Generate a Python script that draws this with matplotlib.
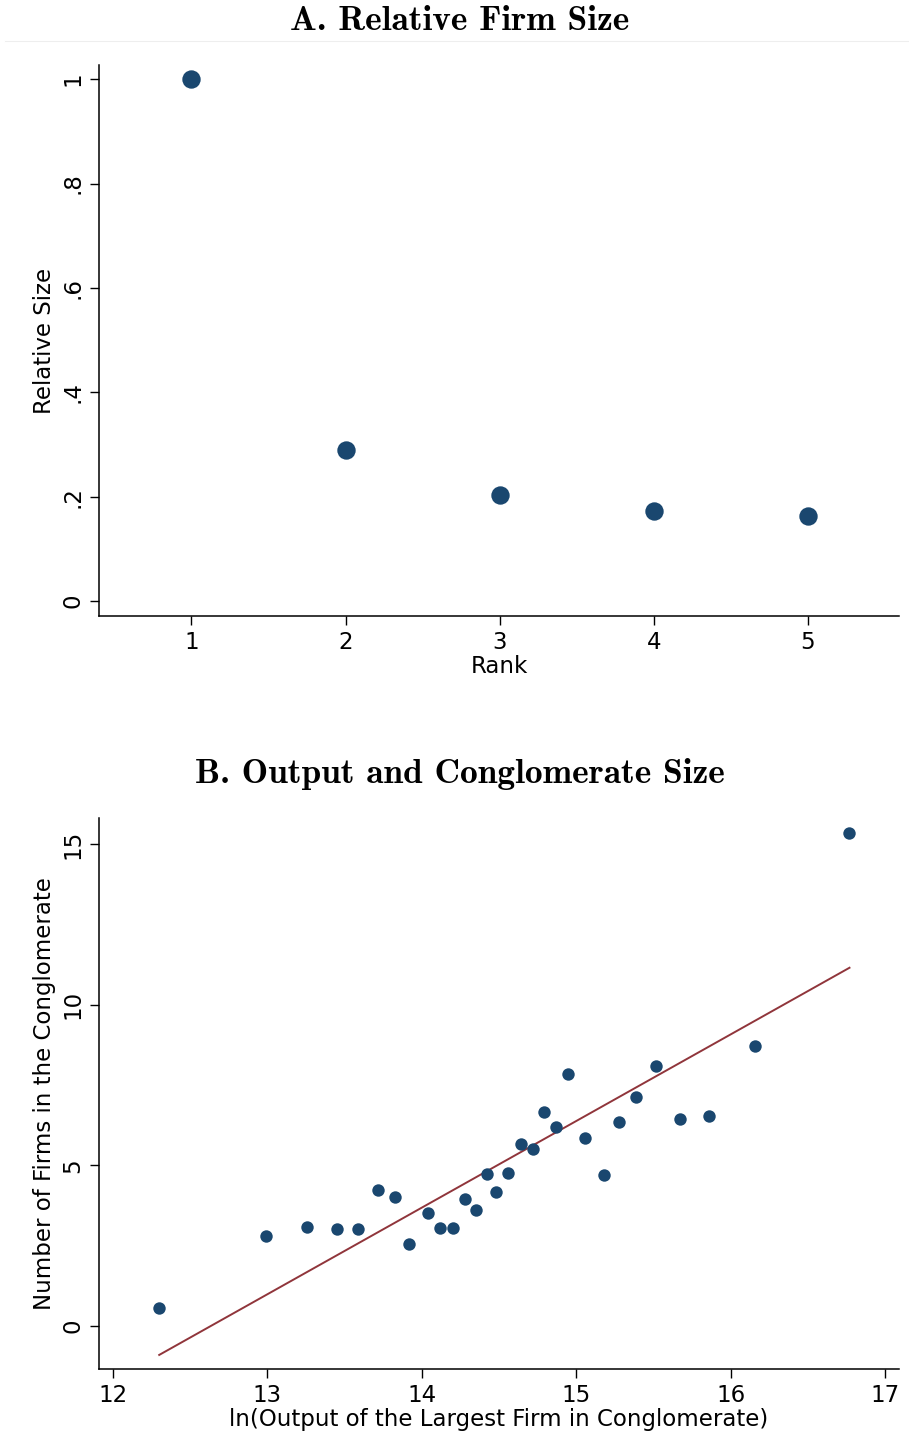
import numpy as np
import matplotlib
matplotlib.use("Agg")
import matplotlib.pyplot as plt
from matplotlib.lines import Line2D

# panel A data
rank = [1, 2, 3, 4, 5]
rel_size = [1.0, 0.289, 0.203, 0.172, 0.163]

# panel B data
log_output = [12.30, 12.99, 13.26, 13.45, 13.59, 13.72, 13.83, 13.92, 14.04, 14.12,
              14.20, 14.28, 14.35, 14.42, 14.48, 14.56, 14.64, 14.72, 14.79, 14.87,
              14.95, 15.06, 15.18, 15.28, 15.39, 15.52, 15.67, 15.86, 16.16, 16.77]
n_firms = [0.56, 2.80, 3.08, 3.02, 3.02, 4.23, 4.01, 2.55, 3.52, 3.05,
           3.05, 3.95, 3.61, 4.73, 4.17, 4.76, 5.66, 5.51, 6.66, 6.19,
           7.84, 5.85, 4.70, 6.35, 7.13, 8.09, 6.44, 6.54, 8.71, 15.34]
fit_x = [12.30, 16.77]
fit_y = [-0.90, 11.15]

navy = '#1a476f'
maroon = '#90353b'
fs = 16.5

plt.rcParams['font.family'] = 'DejaVu Sans'
plt.rcParams['font.size'] = fs

fig = plt.figure(figsize=(9.09, 14.33), dpi=100)

def style(ax):
    for s in ['top', 'right']:
        ax.spines[s].set_visible(False)
    for s in ['left', 'bottom']:
        ax.spines[s].set_linewidth(1.1)
    ax.tick_params(direction='out', length=6.5, width=1.0, labelsize=fs, pad=4)
    for lab in ax.get_yticklabels():
        lab.set_rotation(90)
        lab.set_va('center')

# Panel A
ax1 = fig.add_axes([0.1089, 0.5701, 0.880, 0.3845])
ax1.scatter(rank, rel_size, s=175, color=navy, zorder=3, linewidths=0)
ax1.set_xlim(0.40, 5.59)
ax1.set_ylim(-0.0287, 1.027)
ax1.set_xticks(rank)
ax1.set_yticks([0, 0.2, 0.4, 0.6, 0.8, 1.0])
ax1.set_yticklabels(['0', '.2', '.4', '.6', '.8', '1'])
ax1.set_xlabel('Rank', fontsize=fs, labelpad=1)
ax1.set_ylabel('Relative Size', fontsize=fs, labelpad=4)
style(ax1)
fig.text(0.506, 1 - 21 / 1433, 'A. Relative Firm Size', fontfamily='cmb10',
         fontsize=25.5, ha='center', va='center')

# Panel B
ax2 = fig.add_axes([0.1089, 0.04466, 0.880, 0.3845])
ax2.plot(fit_x, fit_y, color=maroon, lw=1.4, zorder=2)
ax2.scatter(log_output, n_firms, s=80, color=navy, zorder=3, linewidths=0)
ax2.set_xlim(11.91, 17.09)
ax2.set_ylim(-1.338, 15.81)
ax2.set_xticks([12, 13, 14, 15, 16, 17])
ax2.set_yticks([0, 5, 10, 15])
ax2.set_xlabel('ln(Output of the Largest Firm in Conglomerate)', fontsize=fs, labelpad=1)
ax2.set_ylabel('Number of Firms in the Conglomerate', fontsize=fs, labelpad=4)
style(ax2)
fig.text(0.506, 1 - 774 / 1433, 'B. Output and Conglomerate Size', fontfamily='cmb10',
         fontsize=25.5, ha='center', va='center')

# faint divider under title A
fig.add_artist(Line2D([0.005, 1.0], [1 - 41 / 1433, 1 - 41 / 1433],
                      color='#eeeeee', lw=0.8))

fig.savefig('out.png', dpi=100)
